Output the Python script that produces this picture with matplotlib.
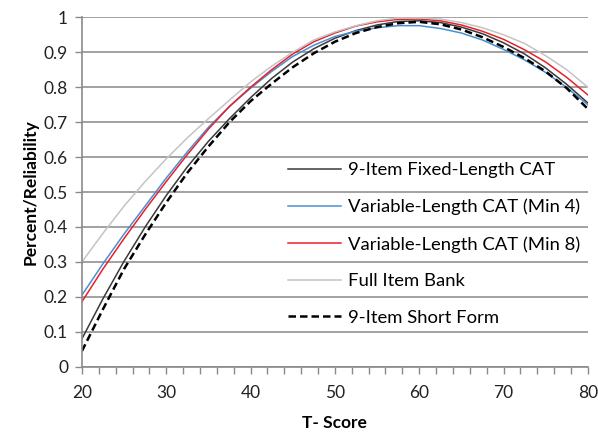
import matplotlib
matplotlib.use("Agg")
import matplotlib.pyplot as plt
from matplotlib.ticker import MultipleLocator

plt.rcParams['font.family'] = ['Lato', 'DejaVu Sans']

# T-score grid and curves
t_score = [20, 22.5, 25, 27.5, 30, 32.5, 35, 37.5, 40, 42.5, 45, 47.5, 50,
           52.5, 55, 57.5, 60, 62.5, 65, 67.5, 70, 72.5, 75, 77.5, 80]

fixed_cat = [0.08, 0.195, 0.302, 0.40, 0.49, 0.572, 0.645, 0.71, 0.77, 0.825,
             0.872, 0.91, 0.94, 0.962, 0.978, 0.988, 0.99, 0.985, 0.972,
             0.953, 0.927, 0.895, 0.855, 0.808, 0.755]
var_min4 = [0.205, 0.295, 0.38, 0.46, 0.54, 0.615, 0.685, 0.745, 0.797, 0.845,
            0.888, 0.92, 0.945, 0.96, 0.97, 0.976, 0.976, 0.968, 0.955, 0.935,
            0.908, 0.878, 0.842, 0.799, 0.75]
var_min8 = [0.186, 0.28, 0.367, 0.45, 0.53, 0.607, 0.68, 0.745, 0.80, 0.85,
            0.895, 0.93, 0.955, 0.975, 0.987, 0.994, 0.995, 0.99, 0.978, 0.96,
            0.937, 0.907, 0.872, 0.828, 0.778]
full_bank = [0.30, 0.382, 0.46, 0.53, 0.595, 0.655, 0.71, 0.763, 0.815, 0.86,
             0.90, 0.935, 0.958, 0.976, 0.99, 0.998, 0.998, 0.995, 0.985,
             0.97, 0.95, 0.925, 0.89, 0.85, 0.80]
short_form = [0.045, 0.165, 0.28, 0.378, 0.47, 0.555, 0.63, 0.70, 0.76, 0.81,
              0.857, 0.897, 0.93, 0.955, 0.972, 0.983, 0.987, 0.98, 0.965,
              0.943, 0.915, 0.883, 0.845, 0.797, 0.738]

fig = plt.figure(figsize=(5.98, 4.32), dpi=100)
ax = fig.add_axes([0.137, 0.151, 0.846, 0.809])

ax.plot(t_score, fixed_cat, color='#3a3a3a', lw=1.1,
        label='9-Item Fixed-Length CAT')
ax.plot(t_score, var_min4, color='#4a8fd0', lw=1.1,
        label='Variable-Length CAT (Min 4)')
ax.plot(t_score, var_min8, color='#e8202a', lw=1.1,
        label='Variable-Length CAT (Min 8)')
ax.plot(t_score, full_bank, color='#c4c4c4', lw=1.1,
        label='Full Item Bank')
ax.plot(t_score, short_form, color='black', lw=1.8, ls=(0, (3, 1.6)),
        label='9-Item Short Form')

ax.set_xlim(20, 80)
ax.set_ylim(0, 1)
ax.xaxis.set_major_locator(MultipleLocator(10))
ax.xaxis.set_minor_locator(MultipleLocator(2))
ax.yaxis.set_major_locator(MultipleLocator(0.1))
ax.set_yticklabels([f'{v:g}' for v in ax.get_yticks()])

ax.grid(axis='y', color='#9a9a9a', lw=1.3)
ax.set_axisbelow(True)
for s in ['top', 'right']:
    ax.spines[s].set_visible(False)
for s in ['left', 'bottom']:
    ax.spines[s].set_color('#8a8a8a')
    ax.spines[s].set_linewidth(1.2)

ax.tick_params(axis='both', which='both', color='#8a8a8a', width=1.0,
               labelsize=12.5, labelcolor='#222222')
ax.tick_params(axis='x', which='both', length=5, pad=8)
ax.tick_params(axis='y', length=5, pad=5)

ax.set_xlabel('T- Score', fontsize=12.5, fontweight='bold', labelpad=10)
ax.set_ylabel('Percent/Reliability', fontsize=12.5, fontweight='bold',
              labelpad=4)

ax.legend(loc='upper left', bbox_to_anchor=(288 / 598, 1 - 162 / 432),
          bbox_transform=fig.transFigure, frameon=False, fontsize=13.3,
          handlelength=2.85, handletextpad=0.42, labelspacing=1.12,
          borderpad=0, borderaxespad=0)

fig.savefig('out.png', dpi=100)
